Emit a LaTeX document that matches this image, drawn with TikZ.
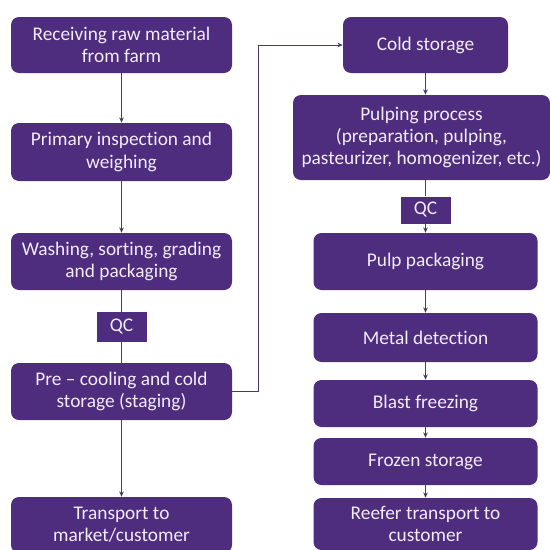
\documentclass[tikz,border=0pt]{standalone}
\usepackage{fontspec}
\setmainfont{Carlito}[Ligatures=NoCommon]
\usetikzlibrary{arrows.meta}
\definecolor{boxpurple}{HTML}{4E2C7E}
\definecolor{boxtext}{HTML}{F2ECF7}
\definecolor{linepurple}{HTML}{4A3A6E}
\tikzset{
  stepbox/.style={draw=none,fill=boxpurple,text=boxtext,rounded corners=6pt,align=center,
    inner sep=0pt,font=\fontsize{14.5}{16.8}\selectfont},
  qcbox/.style={fill=boxpurple,text=boxtext,inner sep=0pt,font=\fontsize{14.5}{16.8}\selectfont},
  flow/.style={draw=linepurple,line width=0.75pt},
  arr/.style={flow,-{Stealth[length=4pt,width=3.5pt]}}
}
\begin{document}
\begin{tikzpicture}[x=0.75pt,y=-0.75pt]
\useasboundingbox (0,0) rectangle (550,550);
% left column
\node[stepbox,minimum width=221*0.75pt,minimum height=56*0.75pt](receive) at (121.5,45){Receiving raw material\\from farm};
\node[stepbox,minimum width=221*0.75pt,minimum height=58*0.75pt](inspect) at (121.5,152){Primary inspection and\\weighing};
\node[stepbox,minimum width=221*0.75pt,minimum height=57*0.75pt](wash) at (121.5,261.5){Washing, sorting, grading\\and packaging};
\node[qcbox,minimum width=50*0.75pt,minimum height=30*0.75pt](qcleft) at (121.5,327){QC};
\node[stepbox,minimum width=221*0.75pt,minimum height=57*0.75pt](precool) at (121.5,391.5){Pre -- cooling and cold\\storage (staging)};
\node[stepbox,minimum width=221*0.75pt,minimum height=56*0.75pt](transport) at (121.5,525){Transport to\\market/customer};
% right column
\node[stepbox,minimum width=165*0.75pt,minimum height=56*0.75pt](cold) at (425.5,45){Cold storage};
\node[stepbox,minimum width=257*0.75pt,minimum height=85*0.75pt](pulping) at (421.5,137.5){Pulping process\\(preparation, pulping,\\pasteurizer, homogenizer, etc.)};
\node[qcbox,minimum width=50*0.75pt,minimum height=27*0.75pt](qcright) at (425.5,210){QC};
\node[stepbox,minimum width=224*0.75pt,minimum height=57*0.75pt](pulppack) at (425.5,261.5){Pulp packaging};
\node[stepbox,minimum width=224*0.75pt,minimum height=49*0.75pt](metal) at (425.5,337.5){Metal detection};
\node[stepbox,minimum width=224*0.75pt,minimum height=47*0.75pt](blast) at (425.5,403.5){Blast freezing};
\node[stepbox,minimum width=224*0.75pt,minimum height=47*0.75pt](frozen) at (425.5,461.5){Frozen storage};
\node[stepbox,minimum width=224*0.75pt,minimum height=52*0.75pt](reefer) at (425.5,524){Reefer transport to\\customer};
% connectors
\draw[arr](receive)--(inspect);
\draw[arr](inspect)--(wash);
\draw[flow](wash)--(qcleft);
\draw[flow](qcleft)--(precool);
\draw[arr](precool)--(transport);
\draw[arr](precool.east)--++(26,0)|-(cold.west);
\draw[arr](cold.south)--(cold.south|-pulping.north);
\draw[flow](qcright.north|-pulping.south)--(qcright.north);
\draw[arr](qcright)--(pulppack);
\draw[arr](pulppack)--(metal);
\draw[arr](metal)--(blast);
\draw[arr](blast)--(frozen);
\draw[arr](frozen)--(reefer);
\end{tikzpicture}
\end{document}
